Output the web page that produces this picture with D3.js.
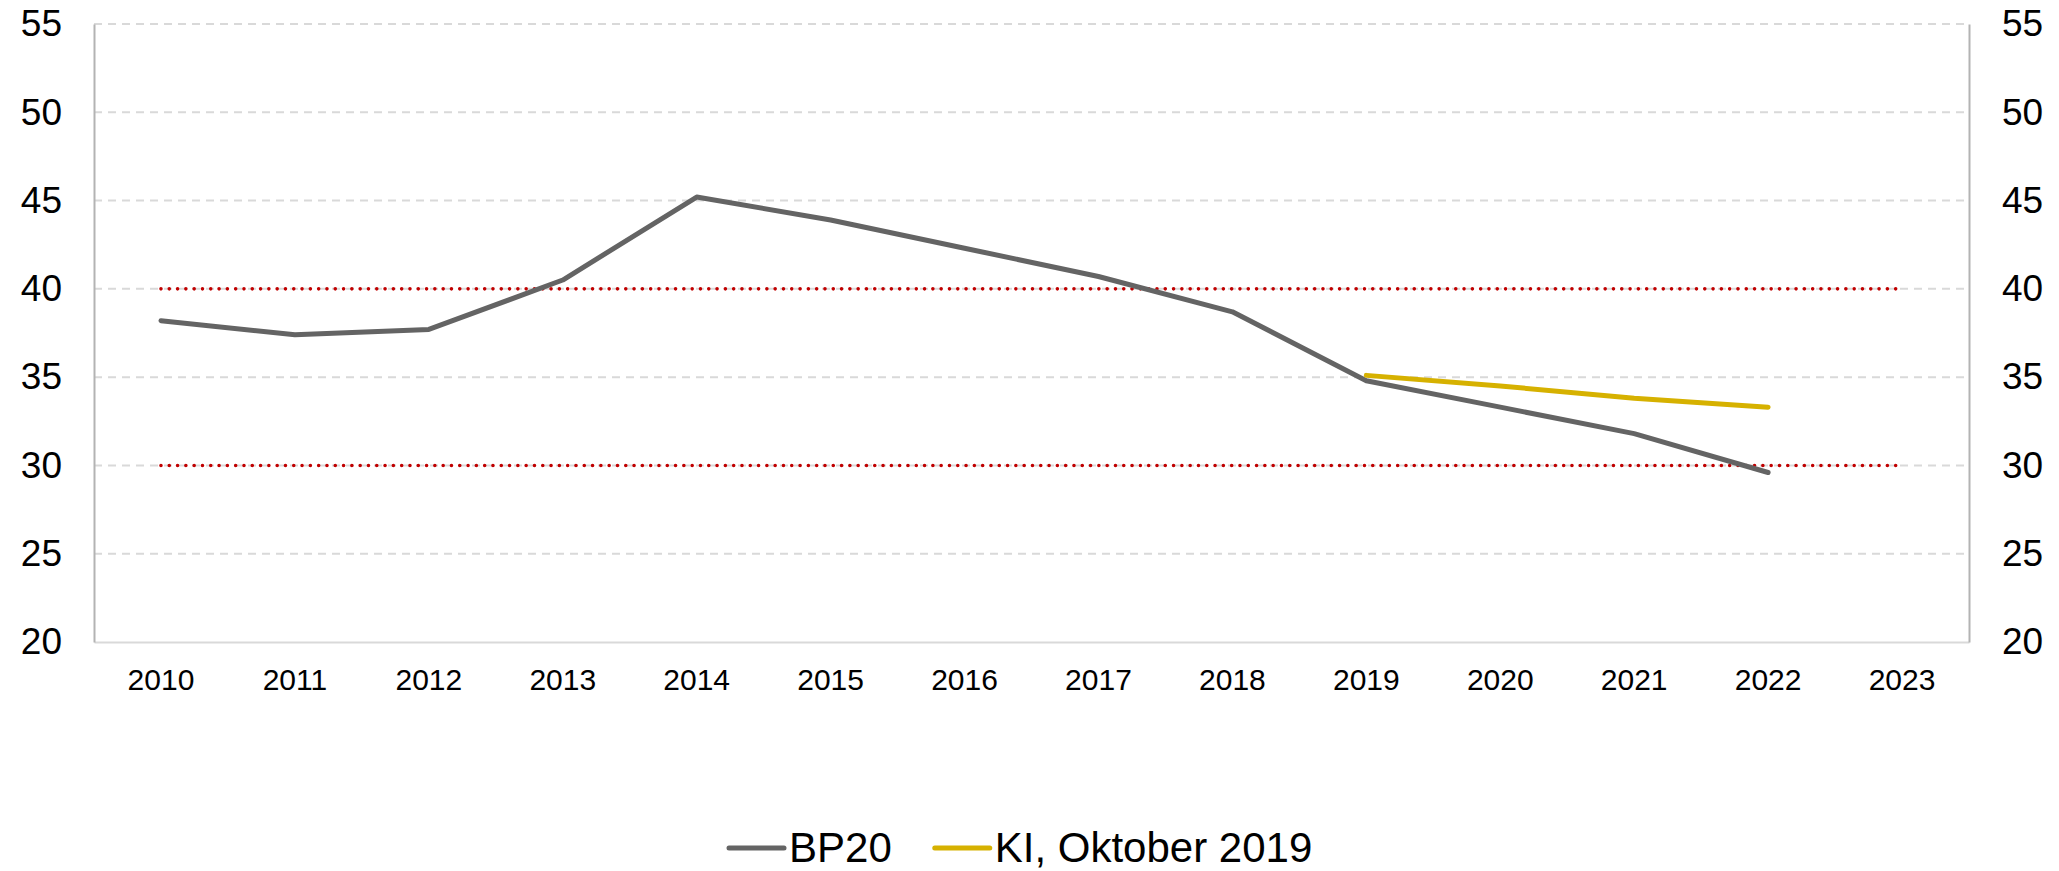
<!DOCTYPE html>
<html>
<head>
<meta charset="utf-8">
<script src="https://d3js.org/d3.v7.min.js"></script>
<style>
  body { margin: 0; background: #fff; }
  svg { display: block; font-family: "Liberation Sans", Arial, sans-serif; }
</style>
</head>
<body>
<div id="chart"></div>

<script>
// data
const years = ["2010","2011","2012","2013","2014","2015","2016","2017","2018","2019","2020","2021","2022","2023"];
const bp20 = [38.2, 37.4, 37.7, 40.5, 45.2, 43.9, 42.3, 40.7, 38.7, 34.8, 33.3, 31.8, 29.6, null];
const ki = [null, null, null, null, null, null, null, null, null, 35.1, 34.5, 33.8, 33.3, null];
const yTicks = [20, 25, 30, 35, 40, 45, 50, 55];
const limits = [40, 30];
const seriesNames = ["BP20", "KI, Oktober 2019"];
const seriesColors = ["#646464", "#d6b100"];

const W = 2059, H = 871;
const plotLeft = 94, plotRight = 1969, plotTop = 24, plotBottom = 642;

const svg = d3.select("#chart")
  .append("svg")
    .attr("width", W)
    .attr("height", H);

const x = d3.scaleBand()
  .domain(years)
  .range([plotLeft, plotRight])
  .padding(0);
const cx = d => x(d) + x.bandwidth() / 2;

const y = d3.scaleLinear()
  .domain([20, 55])
  .range([plotBottom, plotTop]);

// dashed gridlines
svg.append("g")
  .selectAll("line")
  .data(yTicks.filter(t => t > 20))
  .join("line")
    .attr("x1", plotLeft)
    .attr("x2", plotRight)
    .attr("y1", d => y(d))
    .attr("y2", d => y(d))
    .attr("stroke", "#d9d9d9")
    .attr("stroke-width", 2)
    .attr("stroke-dasharray", "8,6");

// red dotted limit lines, 2010 -> 2023
svg.append("g")
  .selectAll("line")
  .data(limits)
  .join("line")
    .attr("x1", cx(years[0]))
    .attr("x2", cx(years[years.length - 1]))
    .attr("y1", d => y(d))
    .attr("y2", d => y(d))
    .attr("stroke", "#c00000")
    .attr("stroke-width", 3.6)
    .attr("stroke-linecap", "round")
    .attr("stroke-dasharray", "0,8.3");

// axes
const xAxis = svg.append("g")
  .attr("transform", `translate(0,${plotBottom})`)
  .call(d3.axisBottom(x).tickSize(0).tickSizeOuter(0));
xAxis.select(".domain").attr("stroke", "#d9d9d9").attr("stroke-width", 2);
xAxis.selectAll("text")
  .attr("y", 48)
  .attr("dy", null)
  .attr("fill", "#000")
  .style("font-size", "30px");

const yLeft = svg.append("g")
  .attr("transform", `translate(${plotLeft},0)`)
  .call(d3.axisLeft(y).tickValues(yTicks).tickSize(0).tickSizeOuter(0).tickPadding(32));
yLeft.select(".domain").attr("stroke", "#b3b3b3").attr("stroke-width", 2);
yLeft.selectAll("text").attr("fill", "#000").style("font-size", "37px");

const yRight = svg.append("g")
  .attr("transform", `translate(${plotRight},0)`)
  .call(d3.axisRight(y).tickValues(yTicks).tickSize(0).tickSizeOuter(0).tickPadding(33));
yRight.select(".domain").attr("stroke", "#b3b3b3").attr("stroke-width", 2);
yRight.selectAll("text").attr("fill", "#000").style("font-size", "37px");

// series
const line = d3.line()
  .defined(d => d.v != null)
  .x(d => cx(d.year))
  .y(d => y(d.v));

[bp20, ki].forEach(function(vals, i) {
  svg.append("path")
    .datum(years.map((yr, j) => ({year: yr, v: vals[j]})))
    .attr("d", line)
    .attr("fill", "none")
    .attr("stroke", seriesColors[i])
    .attr("stroke-width", 5)
    .attr("stroke-linejoin", "round")
    .attr("stroke-linecap", "round");
});

// legend
const legend = svg.append("g").attr("transform", "translate(729,848)");
let lx = 0;
seriesNames.forEach(function(name, i) {
  legend.append("line")
    .attr("x1", lx)
    .attr("x2", lx + 55)
    .attr("y1", 0)
    .attr("y2", 0)
    .attr("stroke", seriesColors[i])
    .attr("stroke-width", 5)
    .attr("stroke-linecap", "round");
  const t = legend.append("text")
    .attr("x", lx + 60)
    .attr("y", 14)
    .style("font-size", "42px")
    .attr("fill", "#000")
    .text(name);
  lx += 60 + t.node().getComputedTextLength() + 43;
});
</script>
</body>
</html>
